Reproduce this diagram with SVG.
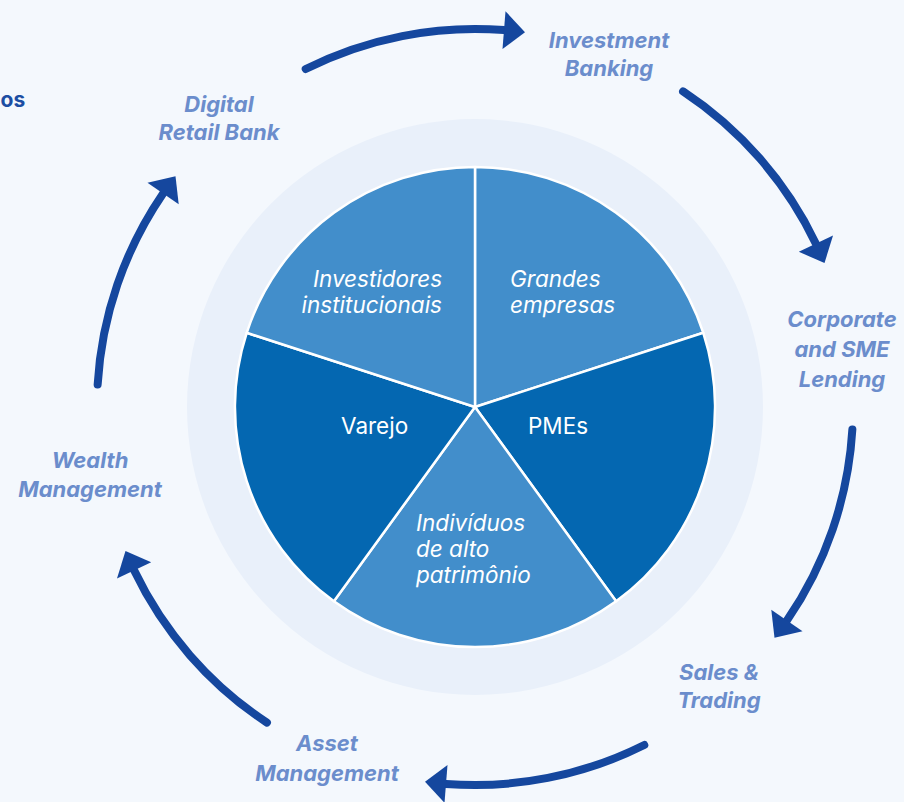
<svg xmlns="http://www.w3.org/2000/svg" xmlns:xlink="http://www.w3.org/1999/xlink" width="904" height="802" viewBox="0 0 904 802">
<style>
.bg{fill:#f4f8fd}
.ring{fill:#e9f0fa}
.light{fill:#428ecb;stroke:#ffffff;stroke-width:2.5;stroke-linejoin:round}
.dark{fill:#0467b1;stroke:#ffffff;stroke-width:2.5;stroke-linejoin:round}
.pl{font-family:Inter,"Liberation Sans",sans-serif;font-size:22.5px;fill:#ffffff}
.it{font-style:italic}
.ol{font-family:Inter,"Liberation Sans",sans-serif;font-size:22px;font-weight:700;font-style:italic;fill:#6b8dcc;text-anchor:middle}
.shaft{fill:none;stroke:#15479e;stroke-width:8;stroke-linecap:round}
.head{fill:#15479e}
</style>
<defs>
<g id="arrow">
<path class="shaft" d="M305.7 69 A378 378 0 0 1 504 30.1"/>
<polygon class="head" points="505.5,11.2 525,32.3 502.5,49"/>
</g>
</defs>
<rect class="bg" x="0" y="0" width="904" height="802"/>
<text x="0.5" y="107" font-family="Inter,'Liberation Sans',sans-serif" font-size="21" font-weight="700" fill="#1c4ea3">os</text>
<circle class="ring" cx="475" cy="407" r="288"/>
<g id="grandes-empresas">
<path class="light" d="M475 407 L475 167 A240 240 0 0 1 703.3 332.8 Z"/>
<text class="pl it" x="510" y="287">Grandes</text>
<text class="pl it" x="510" y="313">empresas</text>
</g>
<g id="pmes">
<path class="dark" d="M475 407 L703.3 332.8 A240 240 0 0 1 616.1 601.2 Z"/>
<text class="pl" x="528" y="434">PMEs</text>
</g>
<g id="individuos">
<path class="light" d="M475 407 L616.1 601.2 A240 240 0 0 1 333.9 601.2 Z"/>
<text class="pl it" x="416" y="531">Indivíduos</text>
<text class="pl it" x="416" y="557">de alto</text>
<text class="pl it" x="416" y="583">patrimônio</text>
</g>
<g id="varejo">
<path class="dark" d="M475 407 L333.9 601.2 A240 240 0 0 1 246.7 332.8 Z"/>
<text class="pl" x="341" y="434">Varejo</text>
</g>
<g id="investidores">
<path class="light" d="M475 407 L246.7 332.8 A240 240 0 0 1 475 167 Z"/>
<text class="pl it" x="442" y="287" text-anchor="end">Investidores</text>
<text class="pl it" x="442" y="313" text-anchor="end">institucionais</text>
</g>
<g id="connectors">
<use xlink:href="#arrow"/>
<use xlink:href="#arrow" transform="rotate(60 475 407)"/>
<use xlink:href="#arrow" transform="rotate(120 475 407)"/>
<use xlink:href="#arrow" transform="rotate(180 475 407)"/>
<use xlink:href="#arrow" transform="rotate(240 475 407)"/>
<use xlink:href="#arrow" transform="rotate(300 475 407)"/>
</g>
<g id="investment-banking">
<text class="ol" x="609" y="48">Investment</text>
<text class="ol" x="609" y="76">Banking</text>
</g>
<g id="corporate-sme-lending">
<text class="ol" x="842" y="327">Corporate</text>
<text class="ol" x="842" y="357">and SME</text>
<text class="ol" x="842" y="387">Lending</text>
</g>
<g id="sales-trading">
<text class="ol" x="719" y="680">Sales &amp;</text>
<text class="ol" x="719" y="708">Trading</text>
</g>
<g id="asset-management">
<text class="ol" x="327" y="751">Asset</text>
<text class="ol" x="327" y="781">Management</text>
</g>
<g id="wealth-management">
<text class="ol" x="90" y="468">Wealth</text>
<text class="ol" x="90" y="497">Management</text>
</g>
<g id="digital-retail-bank">
<text class="ol" x="219" y="112">Digital</text>
<text class="ol" x="219" y="140">Retail Bank</text>
</g>
</svg>
